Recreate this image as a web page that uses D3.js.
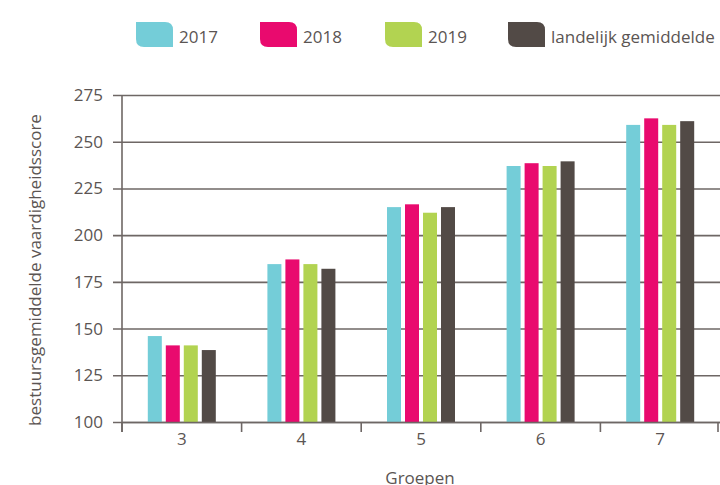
<!DOCTYPE html>
<html>
<head>
<meta charset="utf-8">
<script src="https://cdn.jsdelivr.net/npm/d3@7"></script>
<style>
  body { margin: 0; background: #fff; }
  svg text { font-family: "Open Sans", "Noto Sans", sans-serif; fill: #5b5553; }
</style>
</head>
<body>
<div id="chart"></div>
<script>
// Groups on the x axis
const groups = ['3', '4', '5', '6', '7'];

// Series (legend order)
const series = ['2017', '2018', '2019', 'landelijk gemiddelde'];
const seriesColors = ['#74cdd8', '#e90a6e', '#b2d351', '#524a46'];

// Values per series, one per group
const values2017 = [146, 184.5, 215, 237, 259];
const values2018 = [141, 187, 216.5, 238.5, 262.5];
const values2019 = [141, 184.5, 212, 237, 259];
const valuesLandelijk = [138.5, 182, 215, 239.5, 261];

// Y ticks
const yTicks = [100, 125, 150, 175, 200, 225, 250, 275];

const width = 720, height = 485;
const margin = { top: 95, right: 0, bottom: 63, left: 122 };
const gridColor = '#6e6765';
const fontSize = 17;

const allValues = [values2017, values2018, values2019, valuesLandelijk];
const data = groups.map((g, i) => ({
    group: g,
    bars: series.map((s, j) => ({ key: s, value: allValues[j][i], color: seriesColors[j] }))
}));

const svg = d3.select('#chart').append('svg')
    .attr('width', width)
    .attr('height', height);

const plotW = 598;
const plotH = height - margin.top - margin.bottom;

const g = svg.append('g').attr('transform', `translate(${margin.left},${margin.top})`);

const x0 = d3.scaleBand().domain(groups).range([0, plotW]);
const x1 = d3.scaleBand().domain(series).range([-34, 34]).paddingInner(0.222);
const y = d3.scaleLinear().domain([100, 275]).range([plotH, 0]);

// Horizontal grid lines (with outside ticks)
g.append('g')
    .attr('class', 'grid')
    .call(d3.axisLeft(y).tickValues(yTicks).tickSize(-plotW).tickSizeOuter(0).tickFormat(''))
    .call(s => s.select('.domain').remove())
    .call(s => s.selectAll('line').attr('x1', -9).attr('stroke', gridColor).attr('stroke-width', 1.6));

// Y axis labels
g.append('g')
    .call(d3.axisLeft(y).tickValues(yTicks).tickSize(0).tickPadding(19))
    .call(s => s.select('.domain').remove())
    .call(s => s.selectAll('text').attr('font-size', fontSize).attr('fill', '#5b5553')
        .style('font-family', '"Open Sans", sans-serif'));

// Y axis line
g.append('line')
    .attr('x1', 0).attr('x2', 0)
    .attr('y1', y(275)).attr('y2', plotH + 10)
    .attr('stroke', gridColor).attr('stroke-width', 1.6);

// Bars
g.selectAll('.group')
    .data(data)
    .join('g')
    .attr('class', 'group')
    .attr('transform', d => `translate(${x0(d.group) + x0.bandwidth() / 2},0)`)
    .selectAll('rect')
    .data(d => d.bars)
    .join('rect')
    .attr('x', d => x1(d.key))
    .attr('width', x1.bandwidth())
    .attr('y', d => y(d.value))
    .attr('height', d => y(100) - y(d.value))
    .attr('fill', d => d.color);

// X axis
g.append('g')
    .attr('transform', `translate(0,${plotH})`)
    .call(d3.axisBottom(x0).tickSize(0).tickPadding(11))
    .call(s => s.select('.domain').attr('stroke', gridColor).attr('stroke-width', 1.6))
    .call(s => s.selectAll('text').attr('font-size', fontSize).attr('fill', '#5b5553')
        .style('font-family', '"Open Sans", sans-serif'));

// X ticks between groups
const boundaries = groups.map(gr => x0(gr)).concat([plotW - 2]);
g.selectAll('.xtick')
    .data(boundaries)
    .join('line')
    .attr('class', 'xtick')
    .attr('x1', d => d).attr('x2', d => d)
    .attr('y1', plotH).attr('y2', plotH + 10)
    .attr('stroke', gridColor).attr('stroke-width', 1.6);

// Axis titles
svg.append('text')
    .attr('x', margin.left + plotW / 2 - 1)
    .attr('y', 484)
    .attr('text-anchor', 'middle')
    .attr('font-size', fontSize)
    .text('Groepen');

svg.append('text')
    .attr('transform', `translate(41,${270}) rotate(-90)`)
    .attr('text-anchor', 'middle')
    .attr('font-size', fontSize)
    .text('bestuursgemiddelde vaardigheidsscore');

// Legend
const legendX = [136, 260, 385, 508];
const sw = 37, sh = 25, r = 8;
const swatch = `M0,0 H${sw - r} Q${sw},0 ${sw},${r} V${sh} H${r} Q0,${sh} 0,${sh - r} Z`;
const legend = svg.append('g').attr('transform', 'translate(0,22)');
const items = legend.selectAll('.item')
    .data(series)
    .join('g')
    .attr('class', 'item')
    .attr('transform', (d, i) => `translate(${legendX[i]},0)`);
items.append('path')
    .attr('d', swatch)
    .attr('fill', (d, i) => seriesColors[i]);
items.append('text')
    .attr('x', sw + 6)
    .attr('y', 21)
    .attr('font-size', fontSize)
    .text(d => d);
</script>
</body>
</html>
